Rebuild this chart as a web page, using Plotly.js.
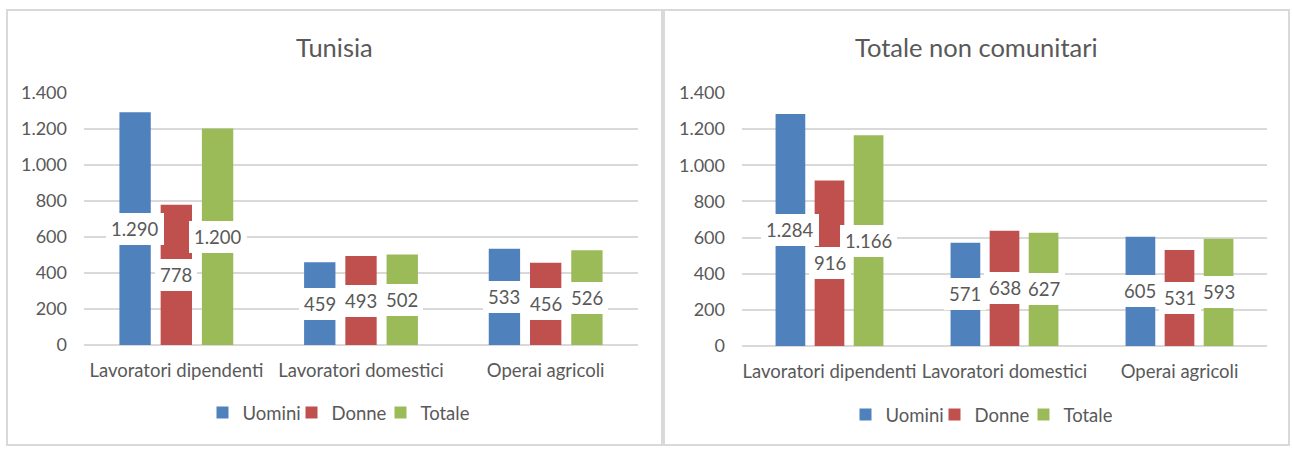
<!DOCTYPE html>
<html>
<head>
<meta charset="utf-8">
<script src="https://cdn.plot.ly/plotly-3.0.1.min.js"></script>
<style>
  html, body { margin: 0; padding: 0; background: #ffffff; }
  #chart { width: 1293px; height: 450px; }
</style>
</head>
<body>
<div id="chart"></div>
<script>
// Categories and series values for the two panels
const categories = ["Lavoratori dipendenti", "Lavoratori domestici", "Operai agricoli"];
const seriesNames = ["Uomini", "Donne", "Totale"];
const panelTitles = ["Tunisia", "Totale non comunitari"];

const tunisiaUomini = [1290, 459, 533];
const tunisiaDonne = [778, 493, 456];
const tunisiaTotale = [1200, 502, 526];

const ncUomini = [1284, 571, 605];
const ncDonne = [916, 638, 531];
const ncTotale = [1166, 627, 593];

const yTicks = [0, 200, 400, 600, 800, 1000, 1200, 1400];

// Styling
const colors = ["#4f81bd", "#c0504d", "#9bbb59"];
const textColor = "#595959";
const gridColor = "#d9d9d9";
const fontFamily = "Lato, 'Open Sans', sans-serif";
const W = 1293, H = 450;
const px = x => x / W;
const py = y => 1 - y / H;

const BARGAP = 0.33;
const BARGROUPGAP = 0.24;

// Italian number format: thousands separated by a dot
function fmt(v) {
  return String(v).replace(/\B(?=(\d{3})+(?!\d))/g, ".");
}

const panels = [
  { title: panelTitles[0], values: [tunisiaUomini, tunisiaDonne, tunisiaTotale], xa: "x", ya: "y", legend: "legend" },
  { title: panelTitles[1], values: [ncUomini, ncDonne, ncTotale], xa: "x2", ya: "y2", legend: "legend2" }
];

const traces = [];
const annotations = [];
const slot = (1 - BARGAP) / seriesNames.length;

panels.forEach((p, pi) => {
  p.values.forEach((vals, si) => {
    traces.push({
      type: "bar",
      name: seriesNames[si],
      x: categories,
      y: vals,
      xaxis: p.xa,
      yaxis: p.ya,
      legend: p.legend,
      marker: { color: colors[si], line: { width: 0 } },
      hoverinfo: "x+y+name"
    });
  });
  // Value labels centred in each bar, on a white box
  p.values.forEach((vals, si) => {
    vals.forEach((v, ci) => {
      annotations.push({
        xref: p.xa, yref: p.ya,
        x: ci + (si - (seriesNames.length - 1) / 2) * slot,
        y: v / 2,
        text: fmt(v),
        showarrow: false,
        bgcolor: "#ffffff",
        borderpad: 5,
        borderwidth: 0,
        font: { family: fontFamily, size: 18.5, color: textColor }
      });
    });
  });
});

// Panel titles
annotations.push({
  xref: "paper", yref: "paper", x: px(334), y: py(47), xanchor: "center", yanchor: "middle",
  text: panelTitles[0], showarrow: false,
  font: { family: fontFamily, size: 25.5, color: textColor }
});
annotations.push({
  xref: "paper", yref: "paper", x: px(976), y: py(47), xanchor: "center", yanchor: "middle",
  text: panelTitles[1], showarrow: false,
  font: { family: fontFamily, size: 25.5, color: textColor }
});

const yAxisBase = {
  range: [0, 1400],
  tickvals: yTicks,
  tickformat: ",d",
  showgrid: true,
  gridcolor: gridColor,
  gridwidth: 2,
  zeroline: true,
  zerolinecolor: gridColor,
  zerolinewidth: 2,
  showline: false,
  ticks: "",
  ticklabelstandoff: 16,
  tickfont: { family: fontFamily, size: 18, color: textColor },
  fixedrange: true
};
const xAxisBase = {
  type: "category",
  range: [-0.5, 2.5],
  showgrid: false,
  zeroline: false,
  showline: false,
  ticks: "",
  ticklabelstandoff: 12,
  tickfont: { family: fontFamily, size: 18.5, color: textColor },
  fixedrange: true
};
const legendBase = {
  orientation: "h",
  xanchor: "center",
  yanchor: "middle",
  entrywidth: 44,
  font: { family: fontFamily, size: 18.5, color: textColor },
  bgcolor: "rgba(0,0,0,0)",
  itemclick: false,
  itemdoubleclick: false
};

const layout = {
  width: W,
  height: H,
  margin: { l: 0, r: 0, t: 0, b: 0 },
  paper_bgcolor: "#ffffff",
  plot_bgcolor: "#ffffff",
  separators: ",.",
  barmode: "group",
  bargap: BARGAP,
  bargroupgap: BARGROUPGAP,
  font: { family: fontFamily, color: textColor },
  xaxis: Object.assign({}, xAxisBase, { domain: [px(84), px(638)], anchor: "y" }),
  yaxis: Object.assign({}, yAxisBase, { domain: [py(345), py(92.5)], anchor: "x" }),
  xaxis2: Object.assign({}, xAxisBase, { domain: [px(742), px(1267)], anchor: "y2" }),
  yaxis2: Object.assign({}, yAxisBase, { domain: [py(346), py(93)], anchor: "x2" }),
  legend: Object.assign({}, legendBase, { x: px(336), y: py(413) }),
  legend2: Object.assign({}, legendBase, { x: px(979), y: py(415) }),
  annotations: annotations,
  shapes: [
    { type: "rect", xref: "paper", yref: "paper", x0: px(7), x1: px(662), y0: py(445), y1: py(10),
      line: { color: gridColor, width: 2 }, fillcolor: "rgba(0,0,0,0)", layer: "below" },
    { type: "rect", xref: "paper", yref: "paper", x0: px(664), x1: px(1289), y0: py(445), y1: py(10),
      line: { color: gridColor, width: 2 }, fillcolor: "rgba(0,0,0,0)", layer: "below" }
  ],
  showlegend: true
};

Plotly.newPlot("chart", traces, layout, { displayModeBar: false, staticPlot: true });
</script>
</body>
</html>
